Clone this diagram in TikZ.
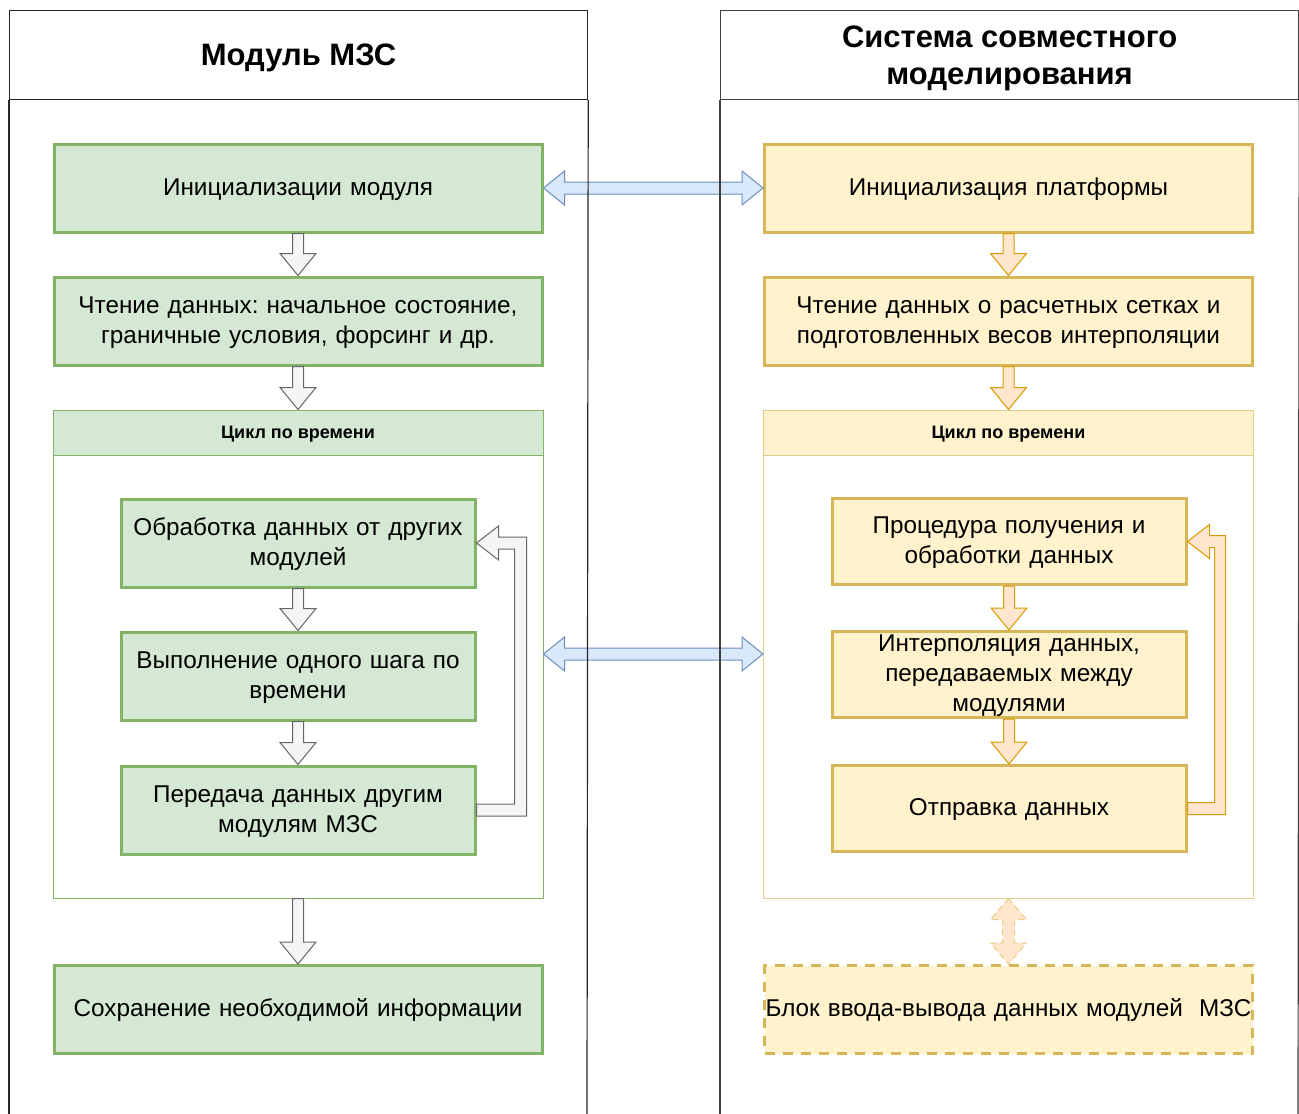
\documentclass[tikz,border=0pt]{standalone}
\usepackage{fontspec}
\setmainfont{Liberation Sans}
\usetikzlibrary{calc}
\frenchspacing
\definecolor{gfill}{HTML}{D5E8D4}
\definecolor{gline}{HTML}{82B366}
\definecolor{yfill}{HTML}{FFF2CC}
\definecolor{yline}{HTML}{D6B656}
\definecolor{bfill}{HTML}{DAE8FC}
\definecolor{bline}{HTML}{6C8EBF}
\definecolor{afill}{HTML}{F5F5F5}
\definecolor{aline}{HTML}{666666}
\definecolor{ofill}{HTML}{FFE6CC}
\definecolor{oline}{HTML}{D79B00}
\newcommand\dnarrow[3]{\draw[#3] let \p1=(#1.south), \p2=(#2.north) in
  (\x1-5.5pt,\y1) -- (\x1+5.5pt,\y1) -- (\x1+5.5pt,\y2+22pt) -- (\x1+18pt,\y2+22pt) --
  (\x1,\y2) -- (\x1-18pt,\y2+22pt) -- (\x1-5.5pt,\y2+22pt) -- cycle;}
\newcommand\hdarrow[2]{\draw[blk,fill=bfill,draw=bline] let \p1=(#1.east), \p2=(#2.west) in
  (\x1,\y1) -- (\x1+21pt,\y1+17pt) -- (\x1+21pt,\y1+6pt) -- (\x2-21pt,\y1+6pt) -- (\x2-21pt,\y1+17pt) --
  (\x2,\y1) -- (\x2-21pt,\y1-17pt) -- (\x2-21pt,\y1-6pt) -- (\x1+21pt,\y1-6pt) -- (\x1+21pt,\y1-17pt) -- cycle;}
\newcommand\looparrow[5]{\draw[#5] let \p1=(#1.east), \p2=(#2.east) in
  (\x1,\y1+6pt) -- (\x1+#3,\y1+6pt) -- (\x1+#3,\y2-6pt) -- (\x2+22pt,\y2-6pt) -- (\x2+22pt,\y2-17pt) --
  (\x2,\y2) -- (\x2+22pt,\y2+17pt) -- (\x2+22pt,\y2+6pt) -- (\x1+#4,\y2+6pt) -- (\x1+#4,\y1-6pt) --
  (\x1,\y1-6pt) -- cycle;}
\begin{document}
\begin{tikzpicture}[x=1pt,y=-1pt,
  gbox/.style={draw=gline,fill=gfill,line width=3pt,minimum width=488pt,minimum height=88pt,
    text width=470pt,align=center,inner sep=0pt,font=\fontsize{24.3}{30}\selectfont,
    execute at begin node={\rule{0pt}{19.5pt}},
    execute at end node={\rule[-5.5pt]{0pt}{5.5pt}}},
  ybox/.style={gbox,draw=yline,fill=yfill},
  gin/.style={gbox,minimum width=354pt,text width=345pt},
  yin/.style={ybox,minimum width=354pt,text width=345pt},
  loopc/.style={draw=#1,line width=1pt,minimum width=490pt,minimum height=488pt,inner sep=0pt},
  looph/.style={draw=#1,line width=1pt,minimum width=490pt,minimum height=45pt,inner sep=0pt,
    text height=14pt,text depth=3pt,font=\bfseries\fontsize{18}{22}\selectfont},
  blk/.style={line width=1pt,line join=miter},
  colline/.style={line width=1.2pt},
  title/.style={font=\bfseries\fontsize{31}{37}\selectfont,align=center,inner sep=0pt,yshift=-3pt}]
\useasboundingbox (0,0) rectangle (1299,1114);
\fill[white] (0,0) rectangle (1299,1114);
% left column contents
\node[gbox] (l1) at (298,188) {Инициализации модуля};
\node[gbox] (l2) at (298,321) {Чтение данных: начальное состояние,\\граничные условия, форсинг и др.};
\node[loopc=gline] (lloop) at (298,654) {};
\node[looph=gline,fill=gfill,anchor=north] (lloophead) at (lloop.north) {Цикл по времени};
\node[gin] (l3) at (298,543) {Обработка данных от других\\модулей};
\node[gin] (l4) at (298,676) {Выполнение одного шага по\\времени};
\node[gin] (l5) at (298,810) {Передача данных другим\\модулям МЗС};
\node[gbox] (l6) at (298,1009.5) {Сохранение необходимой информации};
% right column contents
\node[ybox] (r1) at (1008.5,188) {Инициализация платформы};
\node[ybox] (r2) at (1008.5,321) {Чтение данных о расчетных сетках и\\подготовленных весов интерполяции};
\node[loopc=yline!70] (rloop) at (1008.5,654) {};
\node[looph=yline!70,fill=yfill,anchor=north] (rloophead) at (rloop.north) {Цикл по времени};
\node[yin,minimum height=86pt] (r3) at (1009,541.5) {Процедура получения и\\обработки данных};
\node[yin,minimum height=86pt] (r4) at (1009,674.5) {Интерполяция данных,\\передаваемых между\\модулями};
\node[yin,minimum height=86pt] (r5) at (1009,808.5) {Отправка данных};
\node[ybox,text width=486pt,dash pattern=on 10pt off 8pt] (r6) at (1008.5,1009.5) {Блок ввода-вывода данных модулей\ \ МЗС};
% arrows left
\dnarrow{l1}{l2}{blk,fill=afill,draw=aline}
\dnarrow{l2}{lloophead}{blk,fill=afill,draw=aline}
\dnarrow{l3}{l4}{blk,fill=afill,draw=aline}
\dnarrow{l4}{l5}{blk,fill=afill,draw=aline}
\dnarrow{lloop}{l6}{blk,fill=afill,draw=aline}
\looparrow{l5}{l3}{38pt}{50pt}{blk,fill=afill,draw=aline}
% arrows right
\dnarrow{r1}{r2}{blk,fill=ofill,draw=oline}
\dnarrow{r2}{rloophead}{blk,fill=ofill,draw=oline}
\dnarrow{r3}{r4}{blk,fill=ofill,draw=oline}
\dnarrow{r4}{r5}{blk,fill=ofill,draw=oline}
\looparrow{r5}{r3}{27pt}{38pt}{blk,fill=ofill,draw=oline}
\draw[blk,fill=ofill,draw=oline!50,dash pattern=on 6pt off 4pt] let \p1=(rloop.south), \p2=(r6.north) in
  (\x1,\y1) -- (\x1+18pt,\y1-21pt) -- (\x1+6pt,\y1-21pt) -- (\x1+6pt,\y2+21pt) -- (\x1+18pt,\y2+21pt) --
  (\x1,\y2) -- (\x1-18pt,\y2+21pt) -- (\x1-6pt,\y2+21pt) -- (\x1-6pt,\y1-21pt) -- (\x1-18pt,\y1-21pt) -- cycle;
% horizontal double arrows
\hdarrow{l1}{r1}
\hdarrow{lloop}{rloop}
% columns
\node[draw=black!85,colline,minimum width=578pt,minimum height=89pt,inner sep=0pt,anchor=north west] (lhead) at (9,10) {};
\node[title] (ltitle) at (lhead.center) {Модуль МЗС};
\draw[black!85,colline] (lhead.south west) -- (9,1120);
\draw[black!85,colline] (lhead.south east) -- (587,1120);
\node[draw=black!75,colline,minimum width=578pt,minimum height=89pt,inner sep=0pt,anchor=north west] (rhead) at (720,10) {};
\node[title] (rtitle) at (rhead.center) {Система совместного\\моделирования};
\draw[black!75,colline] (rhead.south west) -- (720,1120);
\draw[black!75,colline] (rhead.south east) -- (1298,1120);
\end{tikzpicture}
\end{document}
